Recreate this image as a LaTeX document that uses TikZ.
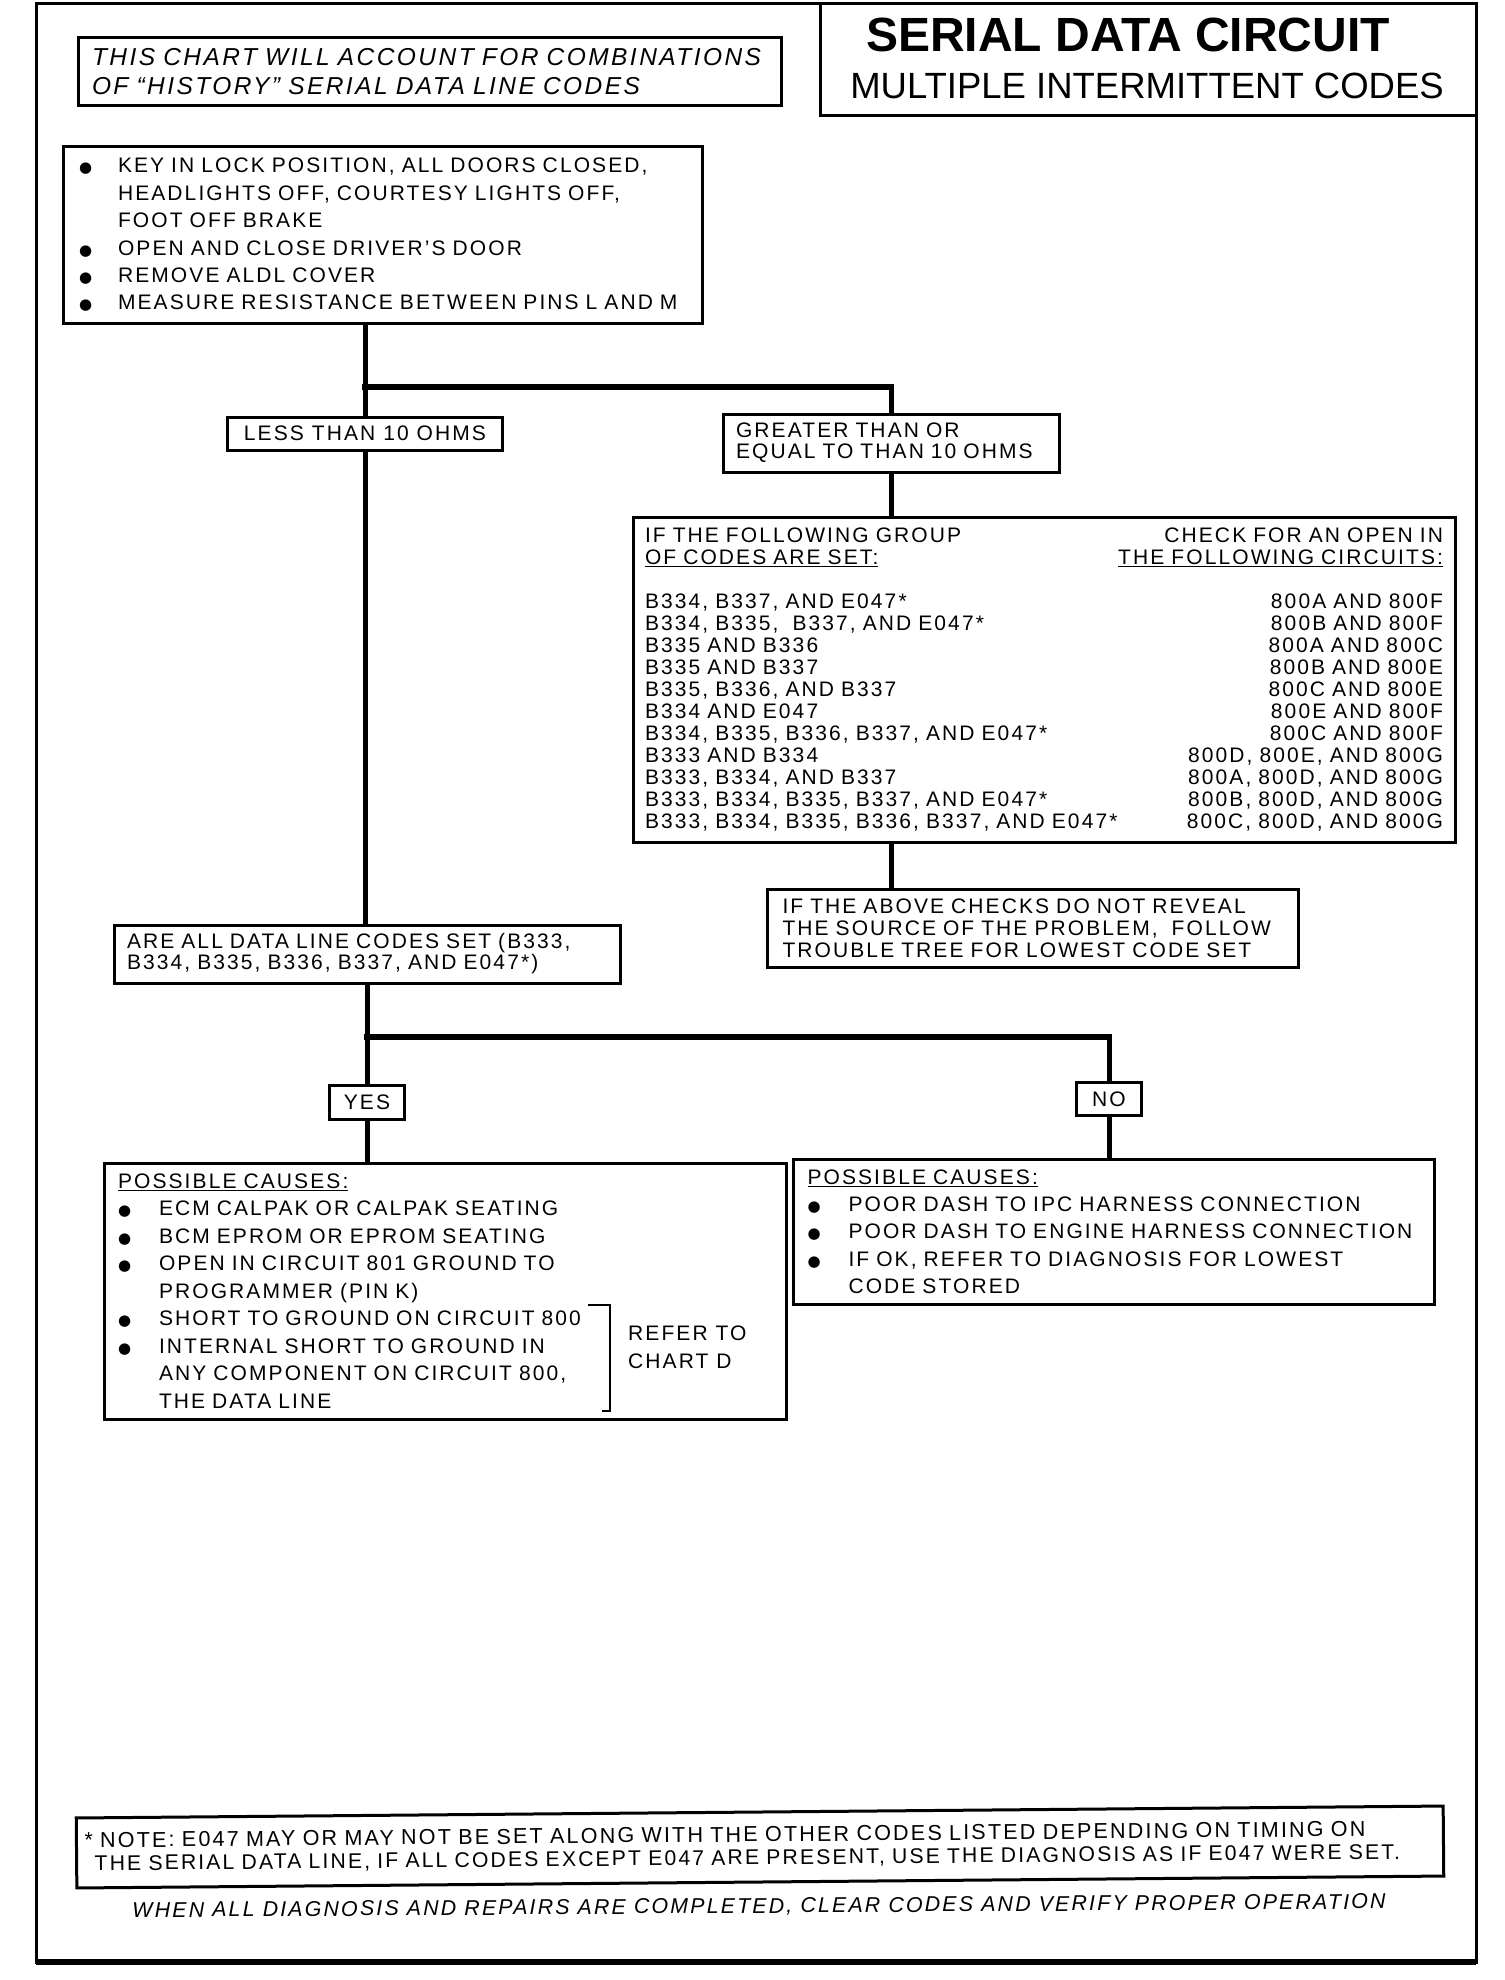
\documentclass[tikz,border=0pt]{standalone}
\usepackage{fontspec}
\usepackage{graphicx}
\setmainfont[LetterSpace=10]{Liberation Sans}
\newfontfamily\headfont{Liberation Sans}
\newfontfamily\dotfont{DejaVu Sans}
\usetikzlibrary{calc}
\newcommand{\blt}[1][39pt]{\makebox[#1][l]{\dotfont\fontsize{15}{15}\selectfont ●}}
\newcommand{\bltgap}[1][39pt]{\hspace*{#1}}
\newcommand{\coderow}[2]{#1\hspace{0pt plus 1filll}#2}

\begin{document}
\begin{tikzpicture}[x=1pt, y=-1pt,
    box/.style = {draw, line width=3pt, inner ysep=0pt, align=left, font=\fontsize{21}{22}\selectfont},
    wire/.style = {draw, line width=5pt},
    fork/.style = {draw, line width=6.5pt, line cap=rect}]
    \useasboundingbox(0,0)rectangle(1504,1980);
    % frame
    \path[draw, line width=3pt](36,4)rectangle(1476,1962);
    \path[draw, line width=6pt](36,1962)to(1476,1962);
    % title
    \node[box, minimum width=656pt, minimum height=112pt](title)at(1148,60){};
    \node[font=\headfont\bfseries\fontsize{48}{48}\selectfont](name)at(1128,35){SERIAL DATA CIRCUIT};
    \node[font=\headfont\fontsize{36.5}{36.5}\selectfont](subject)at(1147,86){MULTIPLE INTERMITTENT CODES};
    % chart note
    \node[box, inner xsep=14pt, text width=675pt, minimum height=68pt, font=\itshape\fontsize{24.5}{29}\selectfont](scope)at(429.5,72){THIS CHART WILL ACCOUNT FOR COMBINATIONS\\OF “HISTORY” SERIAL DATA LINE CODES};
    % test
    \node[box, inner xsep=16pt, text width=607pt, minimum height=176pt, font=\fontsize{21}{27.4}\selectfont](key)at(382.5,235){%
      \blt KEY IN LOCK POSITION, ALL DOORS CLOSED,\\
      \bltgap HEADLIGHTS OFF, COURTESY LIGHTS OFF,\\
      \bltgap FOOT OFF BRAKE\\
      \blt OPEN AND CLOSE DRIVER'S DOOR\\
      \blt REMOVE ALDL COVER\\
      \blt MEASURE RESISTANCE BETWEEN PINS L AND M};
    % results
    \coordinate(s1)at(365,387);
    \node[box, align=center, minimum width=275pt, minimum height=33pt](less)at(365,433.5){LESS THAN 10 OHMS};
    \node[box, inner xsep=13pt, text width=310pt, minimum height=58pt, font=\fontsize{21}{21}\selectfont](greater)at(891,443){GREATER THAN OR\\EQUAL TO THAN 10 OHMS};
    % code table
    \node[box, inner xsep=12pt, text width=798pt, minimum height=325pt](table)at(1044,679.5){%
      \coderow{IF THE FOLLOWING GROUP}{CHECK FOR AN OPEN IN}\\
      \coderow{\underline{OF CODES ARE SET:}}{\underline{THE FOLLOWING CIRCUITS:}}\\[22pt]
      \coderow{B334, B337, AND E047*}{800A AND 800F}\\
      \coderow{B334, B335,~ B337, AND E047*}{800B AND 800F}\\
      \coderow{B335 AND B336}{800A AND 800C}\\
      \coderow{B335 AND B337}{800B AND 800E}\\
      \coderow{B335, B336, AND B337}{800C AND 800E}\\
      \coderow{B334 AND E047}{800E AND 800F}\\
      \coderow{B334, B335, B336, B337, AND E047*}{800C AND 800F}\\
      \coderow{B333 AND B334}{800D, 800E, AND 800G}\\
      \coderow{B333, B334, AND B337}{800A, 800D, AND 800G}\\
      \coderow{B333, B334, B335, B337, AND E047*}{800B, 800D, AND 800G}\\
      \coderow{B333, B334, B335, B336, B337, AND E047*}{800C, 800D, AND 800G}};
    \node[box, inner xsep=15pt, text width=501pt, minimum height=78pt](above)at(1033,928){IF THE ABOVE CHECKS DO NOT REVEAL\\THE SOURCE OF THE PROBLEM,~ FOLLOW\\TROUBLE TREE FOR LOWEST CODE SET};
    % all codes
    \node[box, inner xsep=13pt, text width=480pt, minimum height=58pt, font=\fontsize{21}{21}\selectfont](allset)at(367,954){ARE ALL DATA LINE CODES SET (B333,\\B334, B335, B336, B337, AND E047*)};
    \coordinate(s2)at(367,1037);
    \node[box, align=center, minimum width=75pt, minimum height=34pt](yes)at(367,1102){YES};
    \node[box, align=center, minimum width=65pt, minimum height=33pt](no)at(1109,1099){NO};
    % causes
    \node[box, inner xsep=14pt, text width=654pt, minimum height=256pt, font=\fontsize{21}{27.5}\selectfont](causesyes)at(445,1291){%
      \underline{POSSIBLE CAUSES:}\\
      \blt[41pt]ECM CALPAK OR CALPAK SEATING\\
      \blt[41pt]BCM EPROM OR EPROM SEATING\\
      \blt[41pt]OPEN IN CIRCUIT 801 GROUND TO\\
      \bltgap[41pt]PROGRAMMER (PIN K)\\
      \blt[41pt]SHORT TO GROUND ON CIRCUIT 800\\
      \blt[41pt]INTERNAL SHORT TO GROUND IN\\
      \bltgap[41pt]ANY COMPONENT ON CIRCUIT 800,\\
      \bltgap[41pt]THE DATA LINE};
    \node[anchor=west, inner sep=0pt, align=left, font=\fontsize{21}{28}\selectfont](refer)at(628,1347){REFER TO\\CHART D};
    \path[draw, line width=2.5pt](588,1305)-|(610,1411)to(602,1411);
    \node[box, inner xsep=14pt, text width=613pt, minimum height=145pt, font=\fontsize{21}{27.3}\selectfont](causesno)at(1114,1231.5){%
      \underline{POSSIBLE CAUSES:}\\
      \blt[41pt]POOR DASH TO IPC HARNESS CONNECTION\\
      \blt[41pt]POOR DASH TO ENGINE HARNESS CONNECTION\\
      \blt[41pt]IF OK, REFER TO DIAGNOSIS FOR LOWEST\\
      \bltgap[41pt]CODE STORED};
    % footnote
    \node[box, rotate=0.5, inner xsep=8pt, text width=1351pt, minimum height=70pt, font=\fontsize{21.6}{23}\selectfont](footnote)at(760,1847){%
      \mbox{* NOTE: E047 MAY OR MAY NOT BE SET ALONG WITH THE OTHER CODES LISTED DEPENDING ON TIMING ON}\\
      \mbox{\fontsize{21.2}{23}\selectfont\hspace*{10pt}THE SERIAL DATA LINE, IF ALL CODES EXCEPT E047 ARE PRESENT, USE THE DIAGNOSIS AS IF E047 WERE SET.}};
    \node[rotate=0.4, font=\itshape\fontsize{21.4}{21.4}\selectfont](closing)at(759,1907){WHEN ALL DIAGNOSIS AND REPAIRS ARE COMPLETED, CLEAR CODES AND VERIFY PROPER OPERATION};
    % connectors
    \path[wire](key.south -| s1)to(less.north);
    \path[fork](s1)to(s1 -| greater.north);
    \path[wire](s1 -| greater.north)to(greater.north);
    \path[wire](greater.south)to(greater.south |- table.north);
    \path[wire](greater.south |- table.south)to(greater.south |- above.north);
    \path[wire](less.south)to(less.south |- allset.north);
    \path[wire](allset.south -| s2)to(yes.north);
    \path[fork](s2)to(s2 -| no.north);
    \path[wire](s2 -| no.north)to(no.north);
    \path[wire](yes.south)to(yes.south |- causesyes.north);
    \path[wire](no.south)to(no.south |- causesno.north);
\end{tikzpicture}
\end{document}
